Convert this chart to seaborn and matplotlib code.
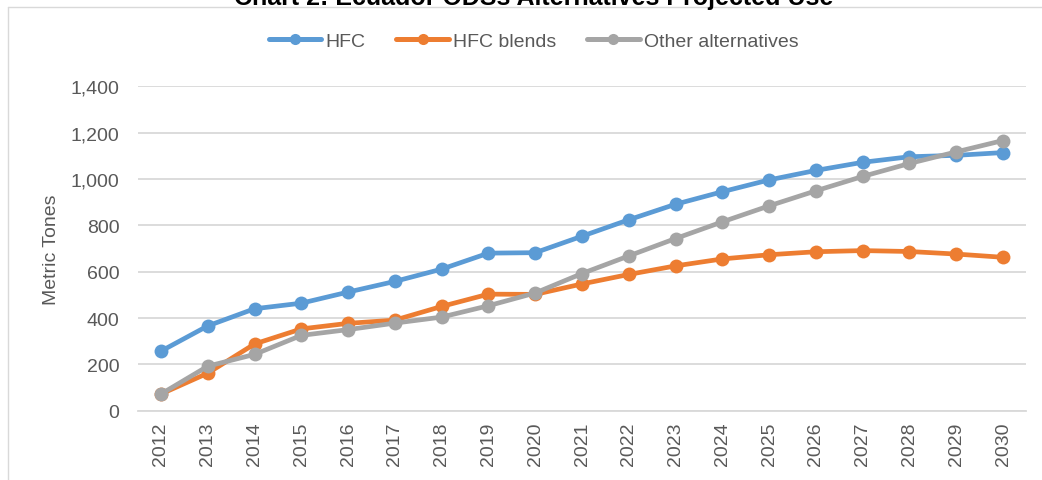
import matplotlib
matplotlib.use("Agg")
import matplotlib.pyplot as plt
import seaborn as sns
import pandas as pd
from matplotlib.lines import Line2D
from matplotlib.ticker import FuncFormatter

# --- data ---
years = [2012, 2013, 2014, 2015, 2016, 2017, 2018, 2019, 2020, 2021,
         2022, 2023, 2024, 2025, 2026, 2027, 2028, 2029, 2030]
hfc = [257, 366, 440, 464, 512, 558, 611, 680, 682, 753,
       824, 891, 945, 996, 1037, 1072, 1096, 1102, 1114]
hfc_blends = [72, 162, 288, 353, 377, 391, 450, 503, 502, 547,
              588, 625, 655, 673, 686, 691, 687, 676, 662]
other_alt = [72, 192, 243, 325, 350, 378, 404, 453, 508, 592,
             668, 743, 815, 884, 949, 1011, 1067, 1117, 1166]
series_names = ["HFC", "HFC blends", "Other alternatives"]
colors = ["#5B9BD5", "#ED7D31", "#A5A5A5"]

df = pd.concat([
    pd.DataFrame({"year": years, "value": vals, "series": name})
    for name, vals in zip(series_names, [hfc, hfc_blends, other_alt])
])

sns.set_theme(style="white")
plt.rcParams["font.family"] = ["Liberation Sans", "DejaVu Sans"]

W, H = 1042, 481
fig = plt.figure(figsize=(W / 100, H / 100), dpi=100)
ax = fig.add_axes([137.6 / W, 1 - 411.7 / H, 888.8 / W, 324.4 / H])

sns.lineplot(data=df, x="year", y="value", hue="series",
             palette=dict(zip(series_names, colors)), hue_order=series_names,
             marker="o", markersize=10, markeredgewidth=0, linewidth=3.4,
             legend=False, ax=ax)

# --- axes styling ---
ax.set_xlim(2011.5, 2030.5)
ax.set_ylim(0, 1400)
ax.set_xticks(years)
ax.set_xticklabels([str(y) for y in years], rotation=90)
ax.set_yticks(range(0, 1401, 200))
ax.yaxis.set_major_formatter(FuncFormatter(lambda v, _: f"{int(v):,}"))
ax.grid(axis="y", color="#D9D9D9", linewidth=1.3)
ax.set_axisbelow(True)
for side in ["top", "right", "left"]:
    ax.spines[side].set_visible(False)
ax.spines["bottom"].set_color("#D9D9D9")
ax.spines["bottom"].set_linewidth(1.3)
ax.tick_params(axis="y", length=0, pad=13, labelsize=14, labelcolor="#595959")
ax.tick_params(axis="x", length=0, pad=8, labelsize=14, labelcolor="#595959")
ax.set_xlabel("")
ax.set_ylabel("")

fig.text(52 / W, 1 - 249.5 / H, "Metric Tones", rotation=90,
         ha="center", va="center", fontsize=14, color="#595959")

# title (cropped at the top in the reference)
fig.text(533.5 / W, 1 - 5 / H, "Chart 2: Ecuador ODSs Alternatives Projected Use",
         ha="center", va="baseline", fontsize=18, fontweight="bold", color="black")

# chart border
fig.add_artist(Line2D([8 / W, 8 / W], [0, 1 - 8 / H], transform=fig.transFigure,
                      color="#D9D9D9", linewidth=1))
fig.add_artist(Line2D([8 / W, 1], [1 - 8 / H, 1 - 8 / H], transform=fig.transFigure,
                      color="#D9D9D9", linewidth=1))

# legend
handles = [Line2D([0], [0], color=c, linewidth=3.6, marker="o", markersize=8,
                  markeredgewidth=0) for c in colors]
fig.legend(handles, series_names, loc="center", bbox_to_anchor=(533.5 / W, 1 - 41.7 / H),
           ncol=3, frameon=False, fontsize=14, handlelength=2.7, handletextpad=0.2,
           columnspacing=1.6, labelcolor="#595959")

fig.savefig("out.png", dpi=100)
plt.close(fig)
